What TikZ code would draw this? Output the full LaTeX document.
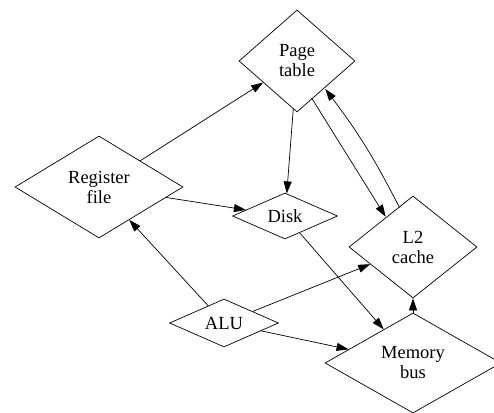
\documentclass[tikz,border=0pt]{standalone}
\usepackage{fontspec}
\setmainfont{Liberation Serif}
\usetikzlibrary{shapes.geometric,arrows.meta,positioning}

\tikzset{
  unit/.style={draw, diamond, aspect=2, inner sep=0pt, align=center,
    line width=0.7pt, font=\fontsize{18.5}{20}\selectfont},
}

\begin{document}
\begin{tikzpicture}[x=1pt, y=-1pt, line width=0.7pt,
    >={Triangle[length=12pt,width=8pt]}, node distance=10pt, on grid]
    \useasboundingbox (0,0) rectangle (494,412);
    \node (pt) [unit, minimum width=116pt, minimum height=102pt] at (297,61) {Page\\table};
    \node (reg) [unit, minimum width=168pt, minimum height=102pt, below left=126pt and 198pt of pt] {Register\\file};
    \node (disk) [unit, minimum width=105pt, minimum height=46pt, below left=155pt and 12pt of pt] {Disk};
    \node (l2) [unit, minimum width=128pt, minimum height=102pt, below right=186pt and 116pt of pt] {L2\\cache};
    \node (mem) [unit, minimum width=176pt, minimum height=100pt, below=116pt of l2] {Memory\\bus};
    \node (alu) [unit, minimum width=109pt, minimum height=48pt, below left=107pt and 61pt of disk] {ALU};
    \path[->] (reg) edge (pt);
    \path[->] (reg) edge (disk);
    \path[->] (alu) edge (reg);
    \path[->] (pt) edge (disk);
    \path[->, transform canvas={xshift=-6pt, yshift=-4pt}] (pt) edge (l2);
    \path[->, transform canvas={xshift=5pt, yshift=3pt}] (l2) edge[bend right=5] (pt);
    \path[->] (disk) edge (mem);
    \path[->] (alu) edge (l2);
    \path[->] (alu) edge (mem);
    \path[->] (mem) edge (l2);
  \end{tikzpicture}
\end{document}
